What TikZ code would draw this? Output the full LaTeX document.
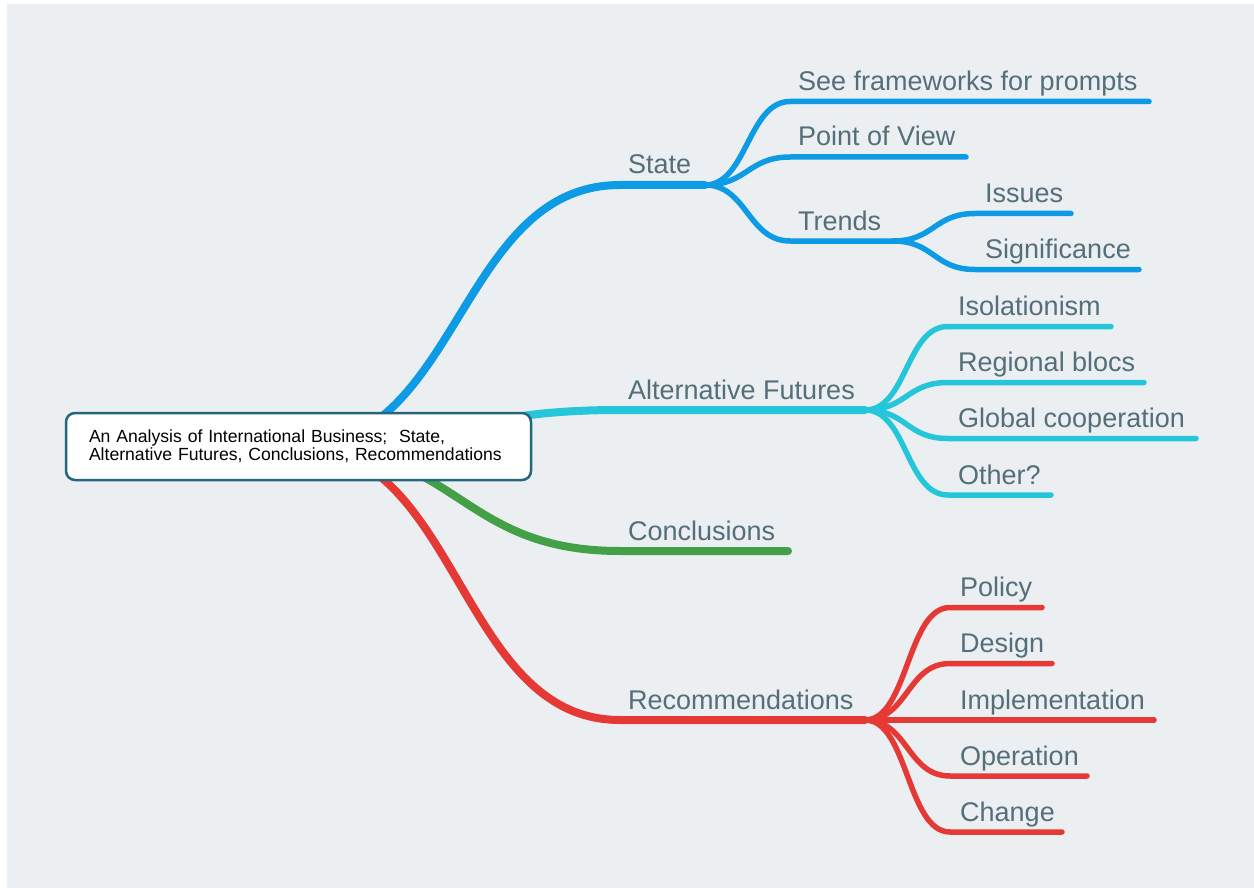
\documentclass[tikz,border=0pt]{standalone}
\usepackage{fontspec}
\setmainfont{Liberation Sans}
\usetikzlibrary{backgrounds}

\definecolor{bgGray}{RGB}{235,239,242}
\definecolor{stateBlue}{RGB}{13,155,229}
\definecolor{futCyan}{RGB}{38,198,218}
\definecolor{conGreen}{RGB}{67,160,71}
\definecolor{recRed}{RGB}{229,57,53}
\definecolor{labelGray}{RGB}{84,110,122}
\definecolor{rootEdge}{RGB}{37,101,125}

\tikzset{
  mainline/.style={line width=8pt, line cap=round},
  subline/.style={line width=5.5pt, line cap=round},
  topic/.style={anchor=base west, inner sep=0pt, text=labelGray, font=\fontsize{27}{31}\selectfont},
}

\begin{document}
\begin{tikzpicture}[x=1pt, y=-1pt]
	\useasboundingbox (0,0) rectangle (1254,888);

	% Central topic
	\node[draw=rootEdge, line width=2.5pt, fill=white, rounded corners=9pt,
		minimum width=465pt, minimum height=67pt, inner xsep=22pt, text width=419pt,
		align=left, font=\fontsize{17.6}{18}\selectfont] (root) at (298.5,446.5)
		{An Analysis of International Business;~ State,\\Alternative Futures, Conclusions, Recommendations};

	% Main topics
	\node[topic] (state) at (628,174) {State};
	\node[topic] (futures) at (628,399) {Alternative Futures};
	\node[topic] (concl) at (628,540) {Conclusions};
	\node[topic] (recom) at (628,709) {Recommendations};

	\coordinate (sState) at (620,185);   \coordinate (jState) at (705,185);
	\coordinate (sFut) at (620,410);     \coordinate (jFut) at (865,410);
	\coordinate (sConcl) at (620,551);   \coordinate (eConcl) at (788,551);
	\coordinate (sRecom) at (620,720);   \coordinate (jRecom) at (865,720);

	% Main branches, behind the central topic
	\begin{scope}[on background layer]
		\fill[bgGray] (7,4) rectangle (1254,888);
		\draw[mainline, stateBlue] (root.center) .. controls +(161,0) and +(-161,0) .. (sState) -- (jState);
		\draw[mainline, futCyan] (root.center) .. controls +(161,0) and +(-161,0) .. (sFut) -- (jFut);
		\draw[mainline, conGreen] (root.center) .. controls +(161,0) and +(-161,0) .. (sConcl) -- (eConcl);
		\draw[mainline, recRed] (root.center) .. controls +(161,0) and +(-161,0) .. (sRecom) -- (jRecom);
	\end{scope}

	% State
	\foreach \name/\y/\xend/\txt in {frame/101.5/1149/See frameworks for prompts, view/157/966/Point of View, trends/241/893/Trends} {
		\node[topic] (\name) at (798,\y-11) {\txt};
		\coordinate (\name-s) at (790,\y);
		\coordinate (\name-e) at (\xend,\y);
		\draw[subline, stateBlue] (jState) .. controls +(42,0) and +(-42,0) .. (\name-s) -- (\name-e);
	}

	% Trends
	\foreach \name/\y/\xend/\txt in {issues/213.5/1071/Issues, signif/269.5/1139/Significance} {
		\node[topic] (\name) at (985,\y-11) {\txt};
		\coordinate (\name-s) at (975,\y);
		\coordinate (\name-e) at (\xend,\y);
		\draw[subline, stateBlue] (trends-e) .. controls +(41,0) and +(-41,0) .. (\name-s) -- (\name-e);
	}

	% Alternative Futures
	\foreach \name/\y/\xend/\txt in {isol/326.5/1111/Isolationism, blocs/382.5/1144/Regional blocs, global/438.5/1196/Global cooperation, other/495/1051/Other?} {
		\node[topic] (\name) at (958,\y-11) {\txt};
		\coordinate (\name-s) at (948,\y);
		\coordinate (\name-e) at (\xend,\y);
		\draw[subline, futCyan] (jFut) .. controls +(42,0) and +(-42,0) .. (\name-s) -- (\name-e);
	}

	% Recommendations
	\foreach \name/\y/\xend/\txt in {policy/607.5/1042/Policy, design/663.5/1052/Design, impl/720/1154/Implementation, oper/776/1087/Operation, change/832/1062/Change} {
		\node[topic] (\name) at (960,\y-11) {\txt};
		\coordinate (\name-s) at (950,\y);
		\coordinate (\name-e) at (\xend,\y);
		\draw[subline, recRed] (jRecom) .. controls +(43,0) and +(-43,0) .. (\name-s) -- (\name-e);
	}
\end{tikzpicture}
\end{document}
